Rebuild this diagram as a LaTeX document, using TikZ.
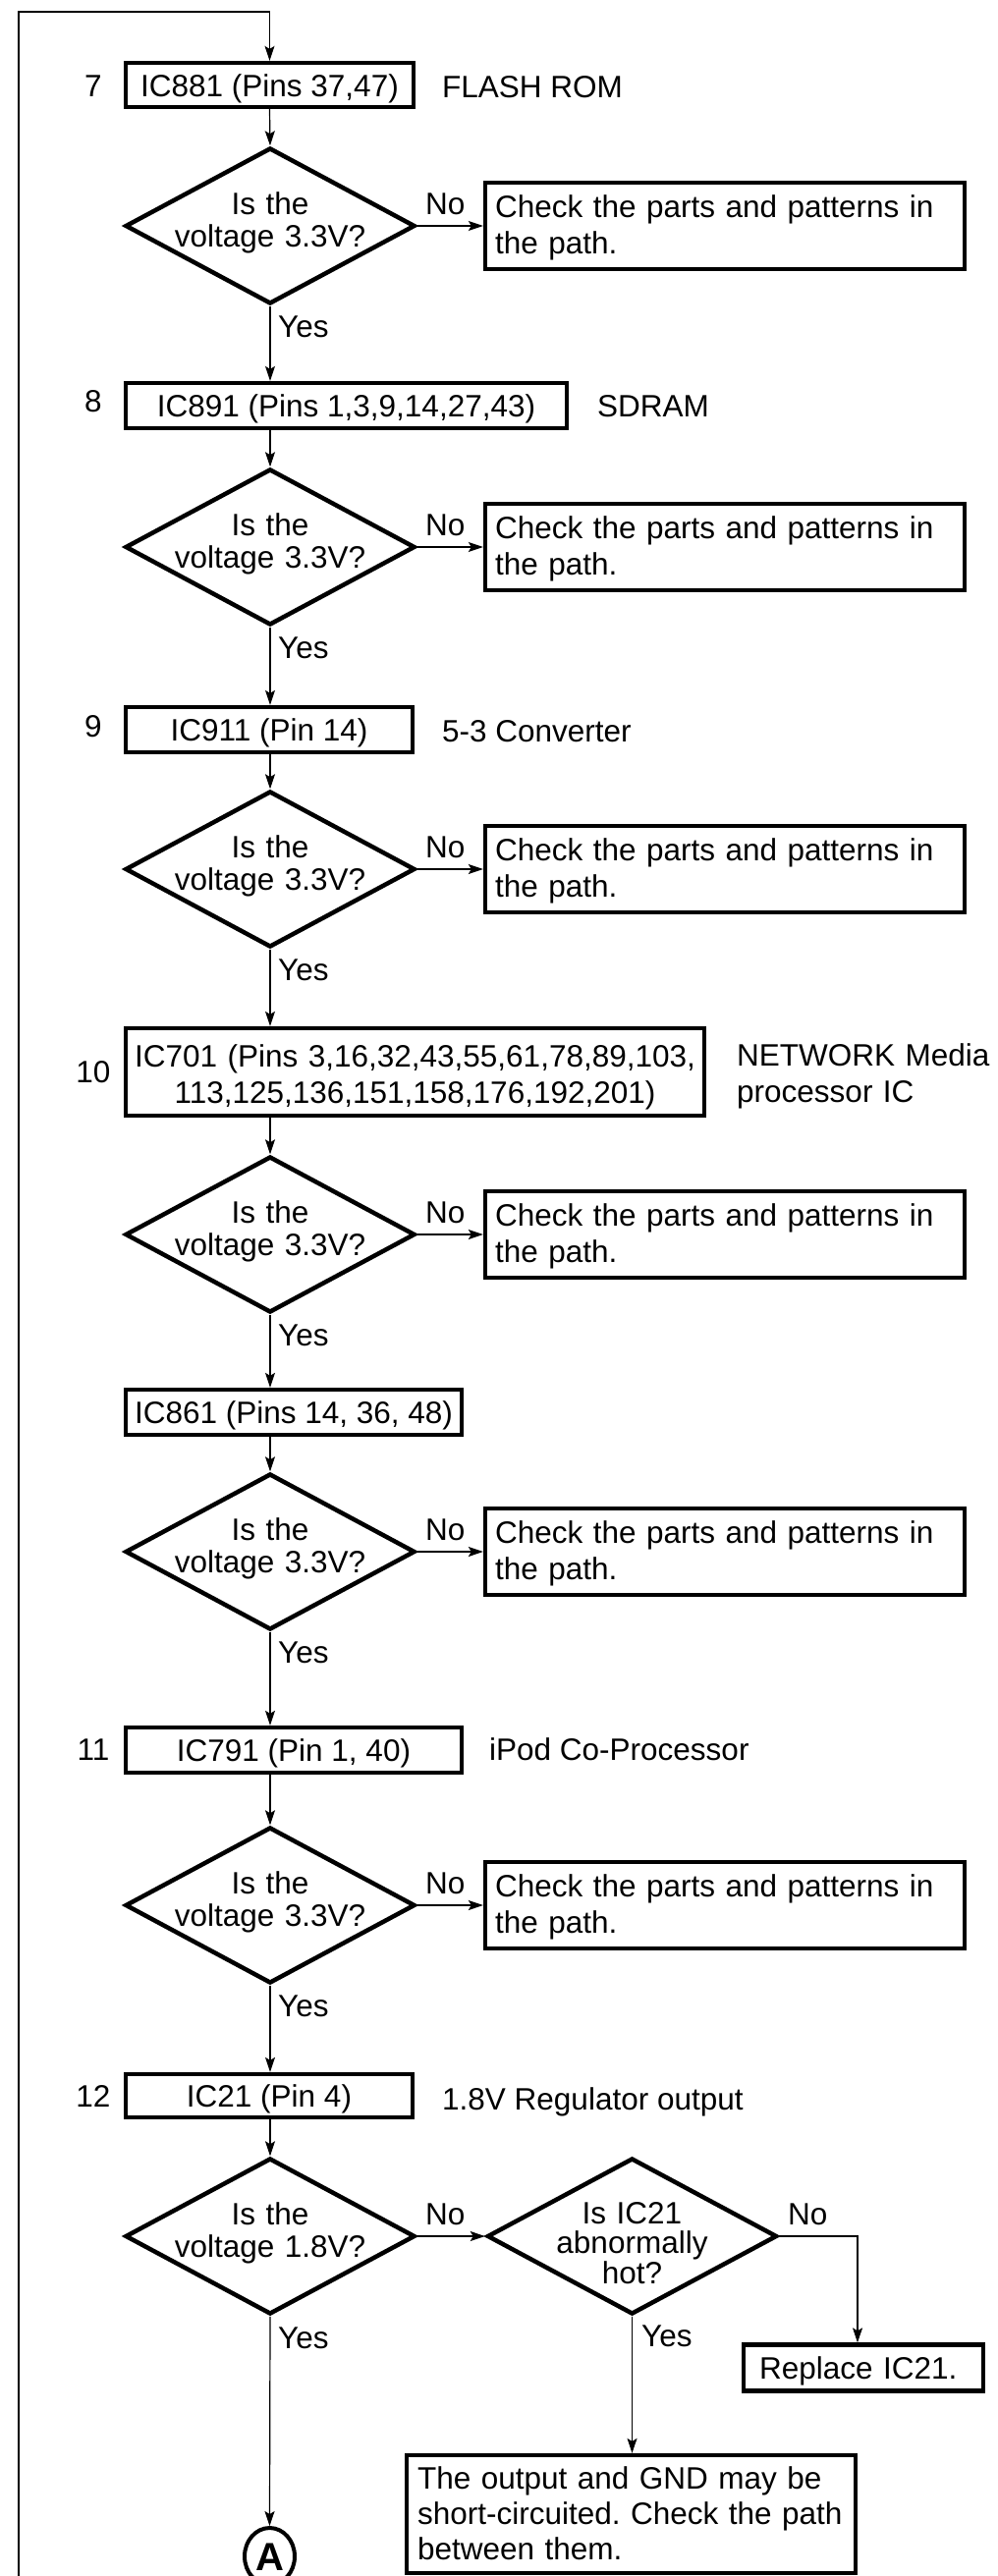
\documentclass[tikz,border=0pt]{standalone}
\usepackage{fontspec}
\setmainfont{Liberation Sans}
\usetikzlibrary{arrows.meta,shapes.geometric}
\newcommand\myfs{\fontsize{31.5}{37}\selectfont\frenchspacing}
\newcommand\mydfs{\fontsize{31.5}{33}\selectfont\frenchspacing}
\newcommand\mydfss{\fontsize{31.5}{30.5}\selectfont\frenchspacing}
\newcommand\myofs{\fontsize{31.5}{36}\selectfont\frenchspacing}
\newcommand\myafs{\fontsize{40}{40}\selectfont\bfseries}
\begin{document}
\begin{tikzpicture}[x=1pt,y=-1pt,
  lbl/.style={font=\myfs, text height=23pt, text depth=0pt, inner sep=0pt},
  fcbox/.style={draw, line width=4.3pt, font=\myfs, inner sep=0pt},
  onebox/.style={fcbox, text height=23pt, text depth=0pt},
  chk/.style={fcbox, minimum width=488pt, minimum height=88pt, inner xsep=10pt, text width=468pt, align=left, text height=23pt, text depth=41pt},
  dia/.style={draw, diamond, line width=4.5pt, minimum width=295pt, minimum height=159pt, inner sep=0pt},
  dtext/.style={font=\mydfs, text width=300pt, align=center, text height=23pt, text depth=46pt, inner sep=0pt},
  arr/.style={line width=1.2pt, -{Stealth[length=15pt,width=10pt,inset=3pt]}},
  conn/.style={line width=1.2pt},
  loopline/.style={line width=1.8pt}
]
\useasboundingbox[fill=white] (0,0) rectangle (1016,2623);

% loop line from previous page
\coordinate (lb) at (19,2623);
\coordinate (lt) at (19,12);
\coordinate (lr) at (274.5,12);

% ---------- step 7
\node[lbl] (n7) at (95,87) {7};
\node[onebox, minimum width=293pt, minimum height=45pt] (b7) at (274.5,86.5) {IC881 (Pins 37,47)};
\node[lbl, anchor=west] (t7) at (450,88) {FLASH ROM};
\node[dia] (d1) at (275,230) {};
\node[dtext] (d1t) at (d1.center) {Is the\\voltage 3.3V?};
\node[chk] (c1) at (738,230) {Check the parts and patterns in\\the path.};
\node[lbl, anchor=west] (no1) at (433,207) {No};
\node[lbl, anchor=west] (yes1) at (283,332) {Yes};

% ---------- step 8
\node[lbl] (n8) at (95,408) {8};
\node[onebox, minimum width=449pt, minimum height=46pt] (b8) at (352.5,413) {IC891 (Pins 1,3,9,14,27,43)};
\node[lbl, anchor=west] (t8) at (608,413) {SDRAM};
\node[dia] (d2) at (275,557) {};
\node[dtext] (d2t) at (d2.center) {Is the\\voltage 3.3V?};
\node[chk] (c2) at (738,557) {Check the parts and patterns in\\the path.};
\node[lbl, anchor=west] (no2) at (433,534) {No};
\node[lbl, anchor=west] (yes2) at (283,659) {Yes};

% ---------- step 9
\node[lbl] (n9) at (95,739) {9};
\node[onebox, minimum width=292pt, minimum height=46pt] (b9) at (274,743) {IC911 (Pin 14)};
\node[lbl, anchor=west] (t9) at (450,744) {5-3 Converter};
\node[dia] (d3) at (275,885) {};
\node[dtext] (d3t) at (d3.center) {Is the\\voltage 3.3V?};
\node[chk] (c3) at (738,885) {Check the parts and patterns in\\the path.};
\node[lbl, anchor=west] (no3) at (433,862) {No};
\node[lbl, anchor=west] (yes3) at (283,987) {Yes};

% ---------- step 10
\node[lbl] (n10) at (95,1091) {10};
\node[fcbox, minimum width=589pt, minimum height=89pt, text width=589pt, align=center, text height=23pt, text depth=33pt] (b10) at (422.5,1091.5) {IC701 (Pins 3,16,32,43,55,61,78,89,103,\\113,125,136,151,158,176,192,201)};
\node[font=\myfs, inner sep=0pt, text width=300pt, align=left, text height=23pt, text depth=37pt, anchor=west] (t10) at (750,1092) {NETWORK Media\\processor IC};
\node[dia] (d4) at (275,1257) {};
\node[dtext] (d4t) at (d4.center) {Is the\\voltage 3.3V?};
\node[chk] (c4) at (738,1257) {Check the parts and patterns in\\the path.};
\node[lbl, anchor=west] (no4) at (433,1234) {No};
\node[lbl, anchor=west] (yes4) at (283,1359) {Yes};

% ---------- IC861
\node[onebox, minimum width=342pt, minimum height=46pt] (b861) at (299,1438) {IC861 (Pins 14, 36, 48)};
\node[dia] (d5) at (275,1580) {};
\node[dtext] (d5t) at (d5.center) {Is the\\voltage 3.3V?};
\node[chk] (c5) at (738,1580) {Check the parts and patterns in\\the path.};
\node[lbl, anchor=west] (no5) at (433,1557) {No};
\node[lbl, anchor=west] (yes5) at (283,1682) {Yes};

% ---------- step 11
\node[lbl] (n11) at (95,1781) {11};
\node[onebox, minimum width=342pt, minimum height=46pt] (b11) at (299,1782) {IC791 (Pin 1, 40)};
\node[lbl, anchor=west] (t11) at (498,1781) {iPod Co-Processor};
\node[dia] (d6) at (275,1940) {};
\node[dtext] (d6t) at (d6.center) {Is the\\voltage 3.3V?};
\node[chk] (c6) at (738,1940) {Check the parts and patterns in\\the path.};
\node[lbl, anchor=west] (no6) at (433,1917) {No};
\node[lbl, anchor=west] (yes6) at (283,2042) {Yes};

% ---------- step 12
\node[lbl] (n12) at (95,2134) {12};
\node[onebox, minimum width=292pt, minimum height=44pt] (b12) at (274,2134) {IC21 (Pin 4)};
\node[lbl, anchor=west] (t12) at (450,2137) {1.8V Regulator output};
\node[dia] (d7) at (275,2277) {};
\node[dtext] (d7t) at (d7.center) {Is the\\voltage 1.8V?};
\node[lbl, anchor=west] (no7) at (433,2254) {No};
\node[lbl, anchor=west] (yes7) at (283,2380) {Yes};

\node[dia] (d8) at (643.5,2277) {};
\node[dtext, font=\mydfss, text depth=49pt] (d8t) at (d8.center) {Is IC21\\abnormally\\hot?};
\node[lbl, anchor=west] (no8) at (802,2254) {No};
\node[lbl, anchor=west] (yes8) at (653,2378) {Yes};

\node[fcbox, minimum width=244pt, minimum height=47pt, inner xsep=16pt, text width=212pt, align=left, text height=23pt, text depth=0pt] (rep) at (879,2411) {Replace IC21.};
\node[fcbox, font=\myofs, minimum width=457pt, minimum height=120pt, inner xsep=9pt, text width=439pt, align=left, text height=23pt, text depth=74pt] (out) at (642.5,2560) {\hspace*{2pt}The output and GND may be\\\hspace*{2pt}short-circuited. Check the path\\\hspace*{2pt}between them.};
\node[draw, ellipse, line width=4pt, minimum width=51pt, minimum height=58pt, inner sep=0pt, font=\myafs, text height=28pt, text depth=0pt] (A) at (274.5,2603) {A};

\coordinate (r1) at (873,2277);

% ---------- connectors
\draw[loopline] (lb) -- (lt) -- (lr);
\draw[arr] (lr) -- (b7.north);
\draw[arr] (b7.south) -- (d1.north);
\draw[arr] (d1.east) -- (c1.west);
\draw[arr] (d1.south) -- (d1.south |- b8.north);
\draw[arr] (b8.south -| d2.north) -- (d2.north);
\draw[arr] (d2.east) -- (c2.west);
\draw[arr] (d2.south) -- (d2.south |- b9.north);
\draw[arr] (b9.south -| d3.north) -- (d3.north);
\draw[arr] (d3.east) -- (c3.west);
\draw[arr] (d3.south) -- (d3.south |- b10.north);
\draw[arr] (b10.south -| d4.north) -- (d4.north);
\draw[arr] (d4.east) -- (c4.west);
\draw[arr] (d4.south) -- (d4.south |- b861.north);
\draw[arr] (b861.south -| d5.north) -- (d5.north);
\draw[arr] (d5.east) -- (c5.west);
\draw[arr] (d5.south) -- (d5.south |- b11.north);
\draw[arr] (b11.south -| d6.north) -- (d6.north);
\draw[arr] (d6.east) -- (c6.west);
\draw[arr] (d6.south) -- (d6.south |- b12.north);
\draw[arr] (b12.south -| d7.north) -- (d7.north);
\draw[arr] (d7.east) -- (d8.west);
\draw[arr] (d8.east) -- (r1) -- (r1 |- rep.north);
\draw[arr] (d8.south) -- (d8.south |- out.north);
\draw[arr] (d7.south) -- (A.north);
\end{tikzpicture}
\end{document}
